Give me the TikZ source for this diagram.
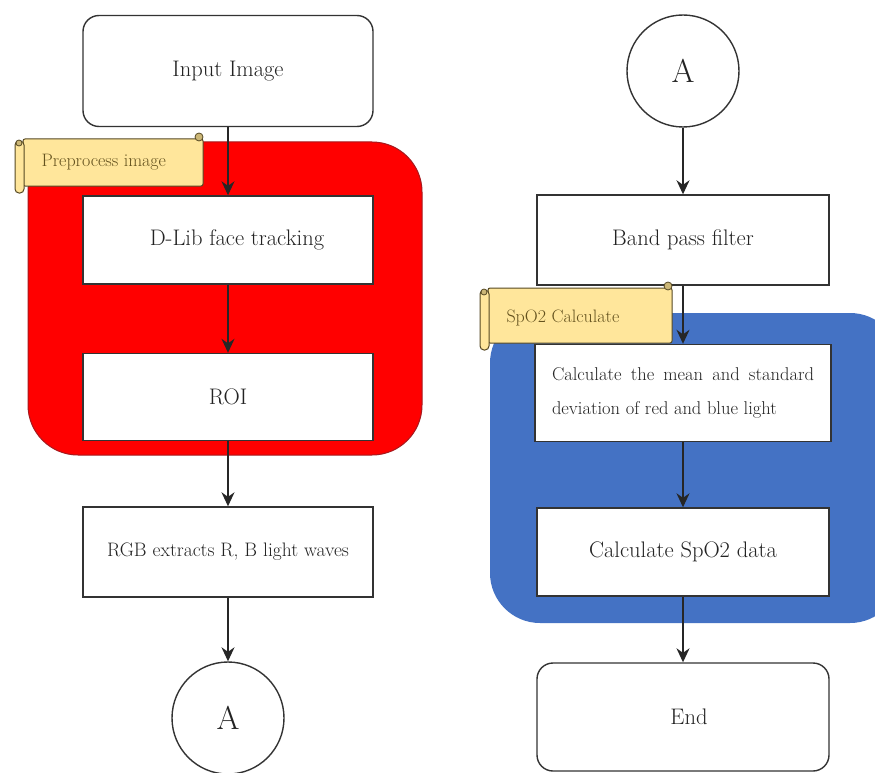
\documentclass[tikz,border=0pt]{standalone}
\usetikzlibrary{arrows.meta,positioning}

\definecolor{roiRed}{RGB}{255,0,0}
\definecolor{roiEdge}{RGB}{165,25,30}
\definecolor{spoBlue}{RGB}{68,114,196}
\definecolor{scrollFill}{RGB}{255,230,155}
\definecolor{scrollEdge}{RGB}{85,72,35}
\definecolor{scrollText}{RGB}{100,82,30}
\definecolor{boxText}{RGB}{35,35,35}

\tikzset{
  stepbox/.style={draw=black!80, line width=1.4pt, fill=white, minimum width=290pt,
    minimum height=88pt, text=boxText, font=\fontsize{22.5}{27}\selectfont},
  endbox/.style={stepbox, rounded corners=16pt},
  joint/.style={circle, draw=black!80, line width=1.4pt, fill=white, minimum size=112pt,
    text=boxText, font=\fontsize{33}{38}\selectfont},
  flow/.style={-{Stealth[length=14pt,width=13pt]}, line width=1.5pt, black!85},
  scrolltext/.style={text=scrollText, font=\fontsize{18}{21}\selectfont, anchor=west}
}

% scroll banner: left, top, right, bottom of the body
\newcommand{\scrollshape}[4]{%
  \filldraw[fill=scrollFill, draw=scrollEdge, line width=1pt, rounded corners=2pt]
    (#1+8,#2+4) rectangle (#3,#4);
  \filldraw[fill=scrollFill, draw=scrollEdge, line width=1pt, rounded corners=4pt]
    (#1,#2+6) rectangle (#1+9,#4+7);
  \filldraw[fill=scrollFill!70!scrollEdge, draw=scrollEdge, line width=0.8pt]
    (#3-4,#2+2) circle (4);
  \filldraw[fill=scrollFill!70!scrollEdge, draw=scrollEdge, line width=0.8pt]
    (#1+4,#2+8) circle (3);
}

\begin{document}
\begin{tikzpicture}[x=1pt, y=-1pt]
    \clip (0,0) rectangle (875,773);
    \fill[white] (0,0) rectangle (875,773);

    % Draw the two coloured groups
    \draw[fill=roiRed, draw=roiEdge, line width=1pt, rounded corners=50pt] (28,142) rectangle (422,455);
    \fill[spoBlue, rounded corners=50pt] (490,313) rectangle (900,623);

    % Left column
    \node[endbox, minimum height=111pt] (input) at (228,71) {Input Image};
    \node[stepbox] (dlib) at (228,240) {\hspace{18pt}D-Lib face tracking};
    \node[stepbox, minimum height=87pt] (roi) at (228,397) {ROI};
    \node[stepbox, minimum height=90pt, font=\fontsize{19.5}{23}\selectfont] (rgb) at (228,552) {RGB extracts R, B light waves};
    \node[joint] (linkout) at (228,718) {A};

    % Right column
    \node[joint] (linkin) at (683,71) {A};
    \node[stepbox, minimum width=292pt, minimum height=90pt] (band) at (683,240) {Band pass filter};
    \node[stepbox, minimum width=296pt, minimum height=97pt, text width=262pt, align=justify,
      font=\fontsize{18.5}{34}\selectfont] (stats) at (683,393)
      {\hyphenpenalty=10000\tolerance=9999 Calculate the mean and standard deviation of red and blue light};
    \node[stepbox, minimum width=292pt] (spo) at (683,552) {Calculate SpO2 data\hspace{36pt}};
    \node[endbox, minimum width=292pt, minimum height=108pt] (finish) at (683,717) {\hspace{12pt}End};

    % Add the scroll labels
    \scrollshape{15}{135}{203}{186}
    \node[scrolltext] (prep) at (38,162) {Preprocess image};
    \scrollshape{480}{284}{672}{343}
    \node[scrolltext] (calc) at (503,318) {SpO2 Calculate};

    % Draw the arrows
    \draw[flow] (input) -- (dlib);
    \draw[flow] (dlib) -- (roi);
    \draw[flow] (roi) -- (rgb);
    \draw[flow] (rgb) -- (linkout);
    \draw[flow] (linkin) -- (band);
    \draw[flow] (band) -- (stats);
    \draw[flow] (stats) -- (spo);
    \draw[flow] (spo) -- (finish);
\end{tikzpicture}
\end{document}
